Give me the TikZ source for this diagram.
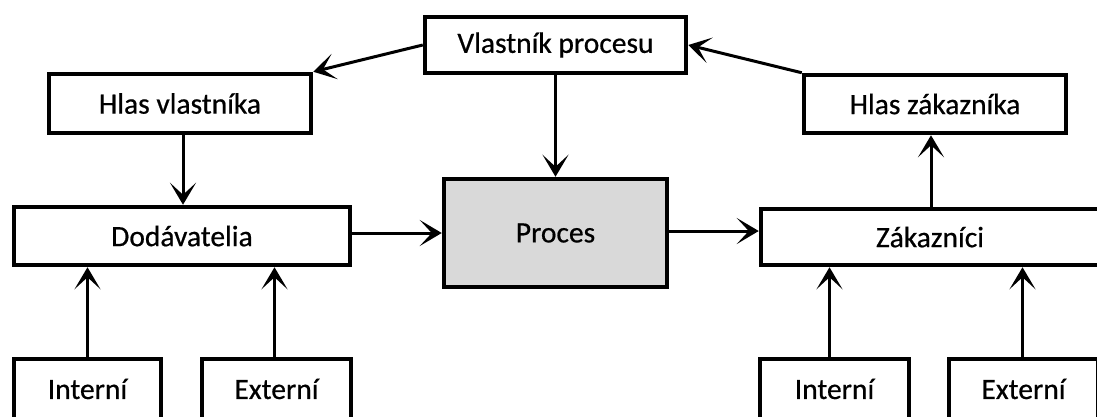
\documentclass[tikz,border=0pt]{standalone}
\usepackage{fontspec}
\setmainfont{Carlito}[FakeBold=0.6]
\usetikzlibrary{arrows.meta}
\begin{document}
\begin{tikzpicture}[x=1pt,y=-1pt,
  box/.style={draw=black, line width=4.5pt, fill=white, inner sep=0pt,
    font=\fontsize{29.5}{32}\selectfont},
  procbox/.style={box, fill=black!15},
  link/.style={line width=3pt, -{Stealth[length=22pt,width=26pt,inset=12pt]}}]
  \useasboundingbox (0,0) rectangle (1097,416);
  \clip (0,0) rectangle (1097,416);

  % top row
  \node[box, minimum width=261pt, minimum height=56pt] (owner) at (555.5,45) {Vlastník procesu};
  \node[box, minimum width=262pt, minimum height=59pt] (vowner) at (180,103.5) {Hlas vlastníka};
  \node[box, minimum width=262pt, minimum height=58pt] (vcust) at (935,104) {Hlas zákazníka};

  % middle row
  \node[box, minimum width=336pt, minimum height=58pt] (supp) at (182,236) {Dodávatelia};
  \node[procbox, minimum width=223pt, minimum height=108pt] (proc) at (555.5,233) {Proces};
  \node[box, minimum width=338pt, minimum height=56pt] (cust) at (930,237) {Zákazníci};

  % bottom row
  \node[box, minimum width=147pt, minimum height=60pt] (sint) at (87.5,389) {Interní};
  \node[box, minimum width=149pt, minimum height=60pt] (sext) at (276.5,389) {Externí};
  \node[box, minimum width=149pt, minimum height=60pt] (cint) at (834.5,389) {Interní};
  \node[box, minimum width=149pt, minimum height=60pt] (cext) at (1023.5,389) {Externí};

  % connectors
  \draw[link] (owner.west) -- (vowner.north east);
  \draw[link] (vcust.north west) -- (owner.east);
  \draw[link] (owner.south) -- (proc.north);
  \draw[link] ([xshift=3pt]vowner.south) -- ([xshift=3pt]vowner.south |- supp.north);
  \draw[link] ([xshift=-4pt]vcust.north |- cust.north) -- ([xshift=-4pt]vcust.south);
  \draw[link] (proc.west -| supp.east) -- (proc.west);
  \draw[link] ([yshift=2pt]proc.east) -- ([yshift=2pt]proc.east -| cust.west);
  \draw[link] (sint.north) -- (sint.north |- supp.south);
  \draw[link] ([xshift=-2pt]sext.north) -- ([xshift=-2pt]sext.north |- supp.south);
  \draw[link] ([xshift=-5pt]cint.north) -- ([xshift=-5pt]cint.north |- cust.south);
  \draw[link] ([xshift=-1pt]cext.north) -- ([xshift=-1pt]cext.north |- cust.south);
\end{tikzpicture}
\end{document}
